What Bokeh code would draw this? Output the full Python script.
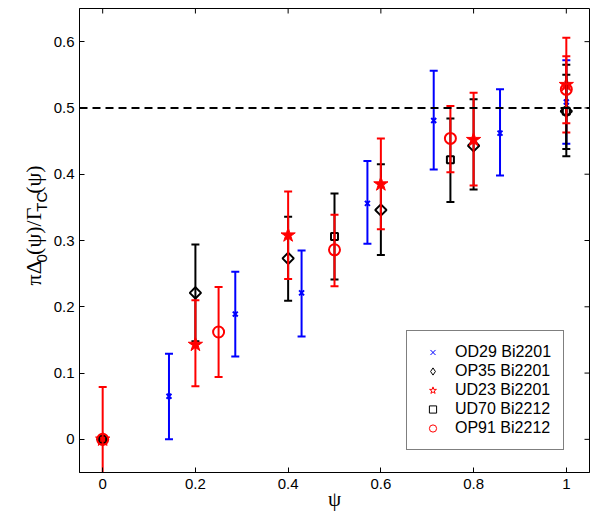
import numpy as np
from bokeh.plotting import figure
from bokeh.layouts import row
from bokeh.models import (Range1d, Span, Legend, LegendItem, FixedTicker)
from bokeh.core.properties import value
from bokeh.embed import file_html
from bokeh.resources import INLINE

# ---------------- data ----------------
x_ticks = [0, 0.2, 0.4, 0.6, 0.8, 1.0]
y_ticks = [0, 0.1, 0.2, 0.3, 0.4, 0.5, 0.6]

od29_psi = [0.0, 0.143, 0.286, 0.429, 0.571, 0.714, 0.857, 1.0]
od29_val = [0.0, 0.065, 0.189, 0.221, 0.356, 0.481, 0.462, 0.509]
od29_lo = [0.0, 0.0, 0.125, 0.155, 0.295, 0.407, 0.398, 0.446]
od29_hi = [0.0, 0.129, 0.253, 0.285, 0.420, 0.556, 0.528, 0.572]

op35_psi = [0.0, 0.2, 0.4, 0.6, 0.8, 1.0]
op35_val = [0.0, 0.221, 0.273, 0.346, 0.443, 0.495]
op35_lo = [0.0, 0.148, 0.209, 0.278, 0.377, 0.427]
op35_hi = [0.0, 0.294, 0.336, 0.415, 0.513, 0.565]

ud23_psi = [0.0, 0.2, 0.4, 0.6, 0.8, 1.0]
ud23_val = [0.0, 0.143, 0.308, 0.385, 0.452, 0.535]
ud23_lo = [0.0, 0.080, 0.242, 0.317, 0.383, 0.463]
ud23_hi = [0.0, 0.210, 0.374, 0.454, 0.523, 0.606]

ud70_psi = [0.0, 0.5, 0.75, 1.0]
ud70_val = [0.0, 0.306, 0.422, 0.495]
ud70_lo = [0.0, 0.241, 0.358, 0.438]
ud70_hi = [0.0, 0.371, 0.484, 0.550]

op91_psi = [0.0, 0.25, 0.5, 0.75, 1.0]
op91_val = [0.0, 0.162, 0.286, 0.454, 0.528]
op91_lo = [-0.079, 0.094, 0.231, 0.403, 0.477]
op91_hi = [0.079, 0.230, 0.339, 0.503, 0.578]

ref_level = 0.5
x_lim = (-0.05, 1.05)
y_lim = (-0.05, 0.65)

labels = ["OD29 Bi2201", "OP35 Bi2201", "UD23 Bi2201", "UD70 Bi2212", "OP91 Bi2212"]

FONT = "Liberation Sans"
SERIF = "Liberation Serif"
H = 516
LW = 50

# ---------------- main figure ----------------
p = figure(width=590 - LW, height=H, x_range=Range1d(*x_lim), y_range=Range1d(*y_lim),
           output_backend="svg", toolbar_location=None,
           min_border_left=78 - LW, min_border_right=1, min_border_top=8,
           min_border_bottom=44,
           background_fill_color="white", border_fill_color="white")
p.grid.visible = False
p.outline_line_color = "black"
p.outline_line_width = 1

for ax, ticks in ((p.xaxis[0], x_ticks), (p.yaxis[0], y_ticks)):
    ax.ticker = FixedTicker(ticks=ticks)
    ax.axis_line_color = "black"
    ax.axis_line_width = 1
    ax.major_tick_in = 5
    ax.major_tick_out = 0
    ax.minor_tick_line_color = None
    ax.major_tick_line_color = "black"
    ax.major_label_text_font = FONT
    ax.major_label_text_font_size = "15px"
    ax.major_label_text_color = "black"

p.xaxis[0].major_label_standoff = 6
p.yaxis[0].major_label_standoff = 5
p.xaxis[0].axis_label = "ψ"
p.xaxis[0].axis_label_text_font = SERIF
p.xaxis[0].axis_label_text_font_size = "21px"
p.xaxis[0].axis_label_text_font_style = "normal"
p.xaxis[0].axis_label_text_color = "black"
p.xaxis[0].axis_label_standoff = -5

# ticks on the top and right edges of the box (half of each dash is clipped)
p.scatter(x=x_ticks, y=[y_lim[1]] * len(x_ticks), marker="dash", size=10,
          angle=np.pi / 2, line_color="black", line_width=1)
p.scatter(x=[x_lim[1]] * len(y_ticks), y=y_ticks, marker="dash", size=10,
          line_color="black", line_width=1)

# reference dashed line
p.add_layout(Span(location=ref_level, dimension="width", line_color="black",
                  line_width=2, line_dash="8 5"))

def draw_series(psi, val, lo, hi, color, marker, size, fill, lw=2, angle=0.0):
    ex = [x for x, a, b in zip(psi, lo, hi) if b > a]
    el = [a for x, a, b in zip(psi, lo, hi) if b > a]
    eh = [b for x, a, b in zip(psi, lo, hi) if b > a]
    p.segment(x0=ex, y0=el, x1=ex, y1=eh, line_color=color, line_width=2)
    p.scatter(x=ex + ex, y=el + eh, marker="dash", size=8, line_color=color,
              line_width=2)
    p.scatter(x=psi, y=val, marker=marker, size=size, line_color=color,
              line_width=lw, fill_color=fill, angle=angle)

draw_series(od29_psi, od29_val, od29_lo, od29_hi, "#0000ff", "x", 7, None, lw=2)
draw_series(op35_psi, op35_val, op35_lo, op35_hi, "black", "square", 8, None,
            lw=2, angle=np.pi / 4)
draw_series(ud23_psi, ud23_val, ud23_lo, ud23_hi, "#ff0000", "star", 15, "#ff0000",
            lw=1)
draw_series(ud70_psi, ud70_val, ud70_lo, ud70_hi, "black", "square", 7, None, lw=2)
draw_series(op91_psi, op91_val, op91_lo, op91_hi, "#ff0000", "circle", 11, None, lw=2)

# legend-only glyphs (thin, hollow); NaN position so they never show in the plot
nan = [np.nan]
l1 = p.scatter(x=nan, y=nan, marker="x", size=8, line_color="#0000ff", line_width=1)
l2 = p.scatter(x=nan, y=nan, marker="diamond", size=13,
               line_color="black", fill_color=None, line_width=1)
l3 = p.scatter(x=nan, y=nan, marker="star", size=13, line_color="#ff0000",
               fill_color=None, line_width=1)
l4 = p.scatter(x=nan, y=nan, marker="square", size=7, line_color="black",
               fill_color=None, line_width=1)
l5 = p.scatter(x=nan, y=nan, marker="circle", size=10, line_color="#ff0000",
               fill_color=None, line_width=1)

legend = Legend(items=[LegendItem(label=labels[i], renderers=[r])
                       for i, r in enumerate([l1, l2, l3, l4, l5])],
                location=(327, 22), border_line_color="black", border_line_width=1,
                background_fill_color="white", background_fill_alpha=1.0,
                label_text_font=FONT, label_text_font_size="16px",
                label_text_color="black",
                glyph_width=27, glyph_height=18, label_height=18, spacing=1,
                padding=12, label_standoff=9, margin=0)
p.add_layout(legend, "center")

# ---------------- y-axis label panel ----------------
q = figure(width=LW, height=H, x_range=Range1d(0, LW), y_range=Range1d(0, H),
           output_backend="svg", toolbar_location=None,
           x_axis_type=None, y_axis_type=None,
           min_border_left=0, min_border_right=0, min_border_top=0,
           min_border_bottom=0, background_fill_color="white",
           border_fill_color="white")
q.grid.visible = False
q.outline_line_color = None

ylab_text = ["πΔ", "0", "(ψ)/Γ", "TC", "(ψ)"]
ylab_sub = [False, True, False, True, False]
ylab_adv = [25.5, 8.5, 48.0, 20.0, 30.0]
start = H - 308.0
pos = start
for t, sub, adv in zip(ylab_text, ylab_sub, ylab_adv):
    q.text(x=[41.0 if sub else 33.0], y=[pos], text=[t],
           text_font=value(FONT if sub else SERIF),
           text_font_size="15px" if sub else "22px",
           angle=np.pi / 2, text_baseline="alphabetic", text_align="left",
           text_color="black")
    pos += adv

layout = row(q, p)
open("out.html", "w").write(file_html(layout, INLINE))
